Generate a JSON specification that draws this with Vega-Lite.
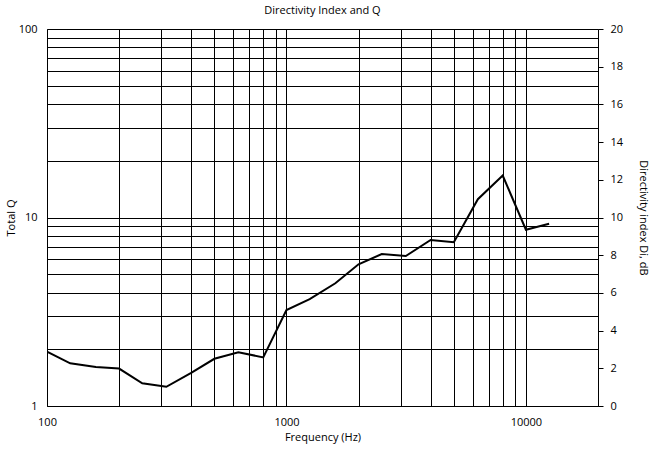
{
  "$schema": "https://vega.github.io/schema/vega-lite/v6.json",
  "width": 551,
  "height": 377,
  "autosize": "none",
  "padding": {"left": 47, "top": 29, "right": 55, "bottom": 46},
  "background": "#ffffff",
  "title": {"text": "Directivity Index and Q", "fontSize": 11, "fontWeight": "normal", "font": "Open Sans", "offset": 7, "anchor": "middle", "color": "#000"},
  "config": {
    "font": "Open Sans",
    "view": {"stroke": null},
    "axis": {
      "labelFont": "Open Sans", "titleFont": "Open Sans",
      "labelFontSize": 11, "titleFontSize": 11, "titleFontWeight": "normal",
      "labelColor": "#000", "titleColor": "#000",
      "domainColor": "#000", "tickColor": "#000",
      "gridColor": "#000", "gridOpacity": 1, "gridWidth": 1, "domainWidth": 1
    }
  },
  "data": {"values": [
    {"f": 100, "q": 1.94},
    {"f": 125, "q": 1.685},
    {"f": 160, "q": 1.61},
    {"f": 200, "q": 1.58},
    {"f": 250, "q": 1.32},
    {"f": 315, "q": 1.265},
    {"f": 400, "q": 1.5},
    {"f": 500, "q": 1.78},
    {"f": 630, "q": 1.93},
    {"f": 800, "q": 1.81},
    {"f": 1000, "q": 3.23},
    {"f": 1250, "q": 3.69},
    {"f": 1600, "q": 4.48},
    {"f": 2000, "q": 5.65},
    {"f": 2500, "q": 6.4},
    {"f": 3150, "q": 6.25},
    {"f": 4000, "q": 7.6},
    {"f": 5000, "q": 7.39},
    {"f": 6300, "q": 12.5},
    {"f": 8000, "q": 16.7},
    {"f": 10000, "q": 8.61},
    {"f": 12500, "q": 9.27}
  ]},
  "layer": [
    {
      "mark": {"type": "line", "color": "#000", "strokeWidth": 2, "clip": true},
      "encoding": {
        "x": {
          "field": "f", "type": "quantitative",
          "scale": {"type": "log", "domain": [100, 20000], "nice": false},
          "axis": {
            "title": "Frequency (Hz)",
            "values": [100, 200, 300, 400, 500, 600, 700, 800, 900, 1000, 2000, 3000, 4000, 5000, 6000, 7000, 8000, 9000, 10000, 20000],
            "labelExpr": "indexof([100,1000,10000], datum.value) >= 0 ? '' + datum.value : ''",
            "ticks": false, "grid": true, "labelPadding": 10, "titlePadding": 4, "labelFlush": false, "labelOverlap": false
          }
        },
        "y": {
          "field": "q", "type": "quantitative",
          "scale": {"type": "log", "domain": [1, 100], "nice": false},
          "axis": {
            "title": "Total Q", "orient": "left",
            "values": [1, 2, 3, 4, 5, 6, 7, 8, 9, 10, 20, 30, 40, 50, 60, 70, 80, 90, 100],
            "labelExpr": "indexof([1,10,100], datum.value) >= 0 ? '' + datum.value : ''",
            "ticks": false, "grid": true, "labelPadding": 10, "titlePadding": 2, "labelFlush": false, "labelOverlap": false
          }
        }
      }
    },
    {
      "mark": {"type": "line", "opacity": 0},
      "encoding": {
        "x": {"field": "f", "type": "quantitative"},
        "y": {
          "field": "q", "type": "quantitative",
          "axis": {
            "orient": "right", "title": "Directivity index Di, dB",
            "values": [1, 1.58489, 2.51189, 3.98107, 6.30957, 10, 15.8489, 25.1189, 39.8107, 63.0957, 100],
            "labelExpr": "format(10 * log(datum.value) / LN10, '.0f')",
            "grid": false, "tickSize": 5, "labelPadding": 7, "titleAngle": 90, "titlePadding": 15,
            "labelFlush": false, "labelOverlap": false
          }
        }
      }
    }
  ],
  "resolve": {"axis": {"y": "independent"}}
}
